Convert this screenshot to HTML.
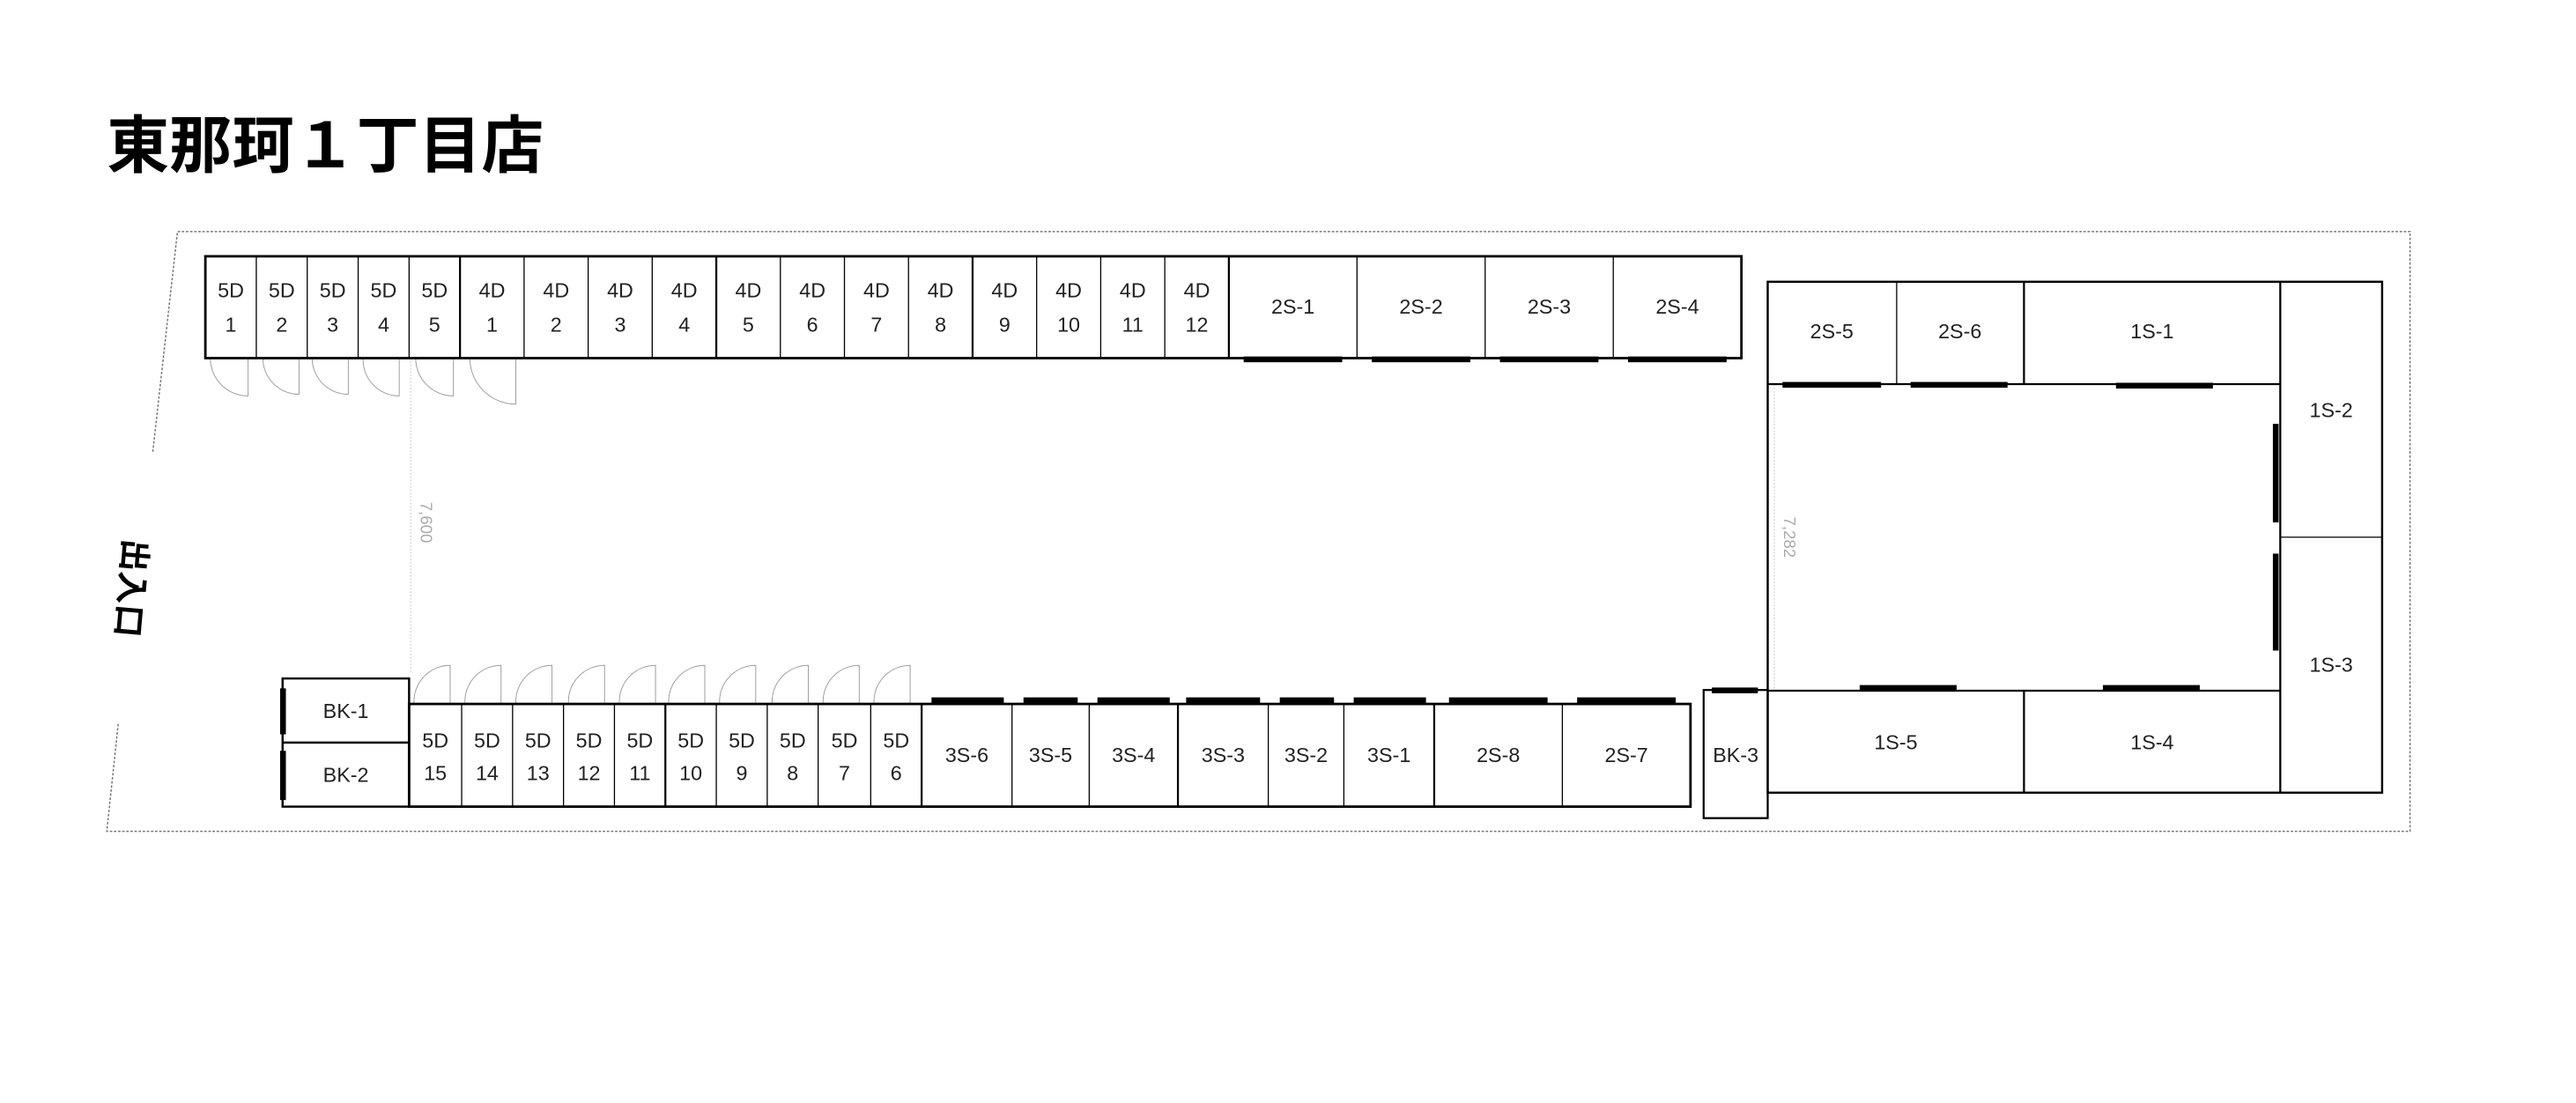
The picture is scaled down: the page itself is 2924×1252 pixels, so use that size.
<!DOCTYPE html>
<html><head><meta charset="utf-8"><style>
html,body{margin:0;padding:0;background:#fff;}
svg{display:block;}
text{font-family:"Liberation Sans","Noto Sans CJK JP",sans-serif;fill:#222;}
</style></head><body>
<svg width="2924" height="1252" viewBox="0 0 1568 671.4" xmlns="http://www.w3.org/2000/svg">
<text x="65" y="102" style="font-family:'Noto Sans CJK JP',sans-serif;font-weight:bold;font-size:38px;fill:#000">東那珂１丁目店</text>
<!-- site boundary -->
<g fill="none" stroke="#777" stroke-width="0.8" stroke-dasharray="1.5,1">
<polyline points="93,275 108,141 1467,141 1467,506 65,506 72,440"/>
</g>
<text transform="translate(80,358) rotate(95)" x="0" y="0" style="font-family:'Noto Sans CJK JP',sans-serif;font-weight:bold;font-size:20px;fill:#000" text-anchor="middle" dy="7">出入口</text>
<!-- guides -->
<g stroke="#ccc" stroke-width="0.6" stroke-dasharray="1,1">
<line x1="250" y1="218" x2="250" y2="410"/>
<line x1="1080" y1="234" x2="1080" y2="420"/>
</g>
<text transform="translate(256,318) rotate(90)" style="font-size:10px;fill:#aaa" text-anchor="middle">7,600</text>
<text transform="translate(1086,327) rotate(90)" style="font-size:10px;fill:#aaa" text-anchor="middle">7,282</text>
<!-- doors top -->
<g fill="none" stroke="#999" stroke-width="0.5">
<path d="M128,218 A23,23 0 0 0 151,241 V218"/>
<path d="M160,218 A22,22 0 0 0 182,240 V218"/>
<path d="M190,218 A22,22 0 0 0 212,240 V218"/>
<path d="M221,218 A22,22 0 0 0 243,241 V218"/>
<path d="M253,218 A23,23 0 0 0 276,241 V218"/>
<path d="M286,218 A28,28 0 0 0 314,246 V218"/>
</g>
<!-- doors bottom -->
<g fill="none" stroke="#999" stroke-width="0.5">
<path d="M252,428 A22,22 0 0 1 274,405 V428"/>
<path d="M283,428 A22,22 0 0 1 305,405 V428"/>
<path d="M314,428 A22,22 0 0 1 336,405 V428"/>
<path d="M346,428 A22,22 0 0 1 368,405 V428"/>
<path d="M377,428 A22,22 0 0 1 399,405 V428"/>
<path d="M407,428 A22,22 0 0 1 429,405 V428"/>
<path d="M438,428 A22,22 0 0 1 460,405 V428"/>
<path d="M470,428 A22,22 0 0 1 492,405 V428"/>
<path d="M501,428 A22,22 0 0 1 523,405 V428"/>
<path d="M532,428 A22,22 0 0 1 554,405 V428"/>
</g>
<!-- top row -->
<g fill="none" stroke="#000">
<rect x="125" y="156" width="935" height="62" stroke-width="1.5"/>
<g stroke-width="0.7">
<line x1="156" y1="156" x2="156" y2="218"/><line x1="187" y1="156" x2="187" y2="218"/><line x1="218" y1="156" x2="218" y2="218"/><line x1="249" y1="156" x2="249" y2="218"/>
<line x1="319" y1="156" x2="319" y2="218"/><line x1="358" y1="156" x2="358" y2="218"/><line x1="397" y1="156" x2="397" y2="218"/>
<line x1="475" y1="156" x2="475" y2="218"/><line x1="514" y1="156" x2="514" y2="218"/><line x1="553" y1="156" x2="553" y2="218"/>
<line x1="631" y1="156" x2="631" y2="218"/><line x1="670" y1="156" x2="670" y2="218"/><line x1="709" y1="156" x2="709" y2="218"/>
<line x1="826" y1="156" x2="826" y2="218"/><line x1="904" y1="156" x2="904" y2="218"/><line x1="982" y1="156" x2="982" y2="218"/>
</g>
<g stroke-width="1.2">
<line x1="280" y1="156" x2="280" y2="218"/><line x1="436" y1="156" x2="436" y2="218"/><line x1="592" y1="156" x2="592" y2="218"/><line x1="748" y1="156" x2="748" y2="218"/>
</g>
</g>
<g font-size="12.5" text-anchor="middle">
<text x="140.5" y="181">5D</text><text x="140.5" y="202">1</text>
<text x="171.5" y="181">5D</text><text x="171.5" y="202">2</text>
<text x="202.5" y="181">5D</text><text x="202.5" y="202">3</text>
<text x="233.5" y="181">5D</text><text x="233.5" y="202">4</text>
<text x="264.5" y="181">5D</text><text x="264.5" y="202">5</text>
<text x="299.5" y="181">4D</text><text x="299.5" y="202">1</text>
<text x="338.5" y="181">4D</text><text x="338.5" y="202">2</text>
<text x="377.5" y="181">4D</text><text x="377.5" y="202">3</text>
<text x="416.5" y="181">4D</text><text x="416.5" y="202">4</text>
<text x="455.5" y="181">4D</text><text x="455.5" y="202">5</text>
<text x="494.5" y="181">4D</text><text x="494.5" y="202">6</text>
<text x="533.5" y="181">4D</text><text x="533.5" y="202">7</text>
<text x="572.5" y="181">4D</text><text x="572.5" y="202">8</text>
<text x="611.5" y="181">4D</text><text x="611.5" y="202">9</text>
<text x="650.5" y="181">4D</text><text x="650.5" y="202">10</text>
<text x="689.5" y="181">4D</text><text x="689.5" y="202">11</text>
<text x="728.5" y="181">4D</text><text x="728.5" y="202">12</text>
<text x="787" y="191">2S-1</text><text x="865" y="191">2S-2</text><text x="943" y="191">2S-3</text><text x="1021" y="191">2S-4</text>
</g>
<g fill="#000">
<rect x="757" y="217" width="60" height="3.5"/><rect x="835" y="217" width="60" height="3.5"/><rect x="913" y="217" width="60" height="3.5"/><rect x="991" y="217" width="60" height="3.5"/>
</g>
<!-- bottom row -->
<g fill="none" stroke="#000">
<rect x="172" y="413" width="77" height="78" stroke-width="1.3"/>
<line x1="172" y1="452" x2="249" y2="452" stroke-width="1.3"/>
<rect x="249" y="428.5" width="780" height="62.5" stroke-width="1.5"/>
<g stroke-width="0.7">
<line x1="281" y1="428" x2="281" y2="491"/><line x1="312" y1="428" x2="312" y2="491"/><line x1="343" y1="428" x2="343" y2="491"/><line x1="374" y1="428" x2="374" y2="491"/>
<line x1="436" y1="428" x2="436" y2="491"/><line x1="467" y1="428" x2="467" y2="491"/><line x1="498" y1="428" x2="498" y2="491"/><line x1="530" y1="428" x2="530" y2="491"/>
<line x1="616" y1="428" x2="616" y2="491"/><line x1="663" y1="428" x2="663" y2="491"/><line x1="772" y1="428" x2="772" y2="491"/><line x1="818" y1="428" x2="818" y2="491"/><line x1="951" y1="428" x2="951" y2="491"/>
</g>
<g stroke-width="1.2">
<line x1="405" y1="428" x2="405" y2="491"/><line x1="561" y1="428" x2="561" y2="491"/><line x1="717" y1="428" x2="717" y2="491"/><line x1="873" y1="428" x2="873" y2="491"/>
</g>
<rect x="1037" y="420" width="39" height="78" stroke-width="1.2"/>
</g>
<g fill="#000">
<rect x="170.5" y="419" width="3.5" height="28"/><rect x="170.5" y="457" width="3.5" height="30"/>
<rect x="567" y="424.5" width="44" height="3.5"/><rect x="623" y="424.5" width="33" height="3.5"/><rect x="668" y="424.5" width="44" height="3.5"/><rect x="722" y="424.5" width="45" height="3.5"/>
<rect x="779" y="424.5" width="33" height="3.5"/><rect x="824" y="424.5" width="44" height="3.5"/><rect x="882" y="424.5" width="60" height="3.5"/><rect x="960" y="424.5" width="60" height="3.5"/>
<rect x="1042" y="418.5" width="28" height="3.5"/>
</g>
<g font-size="12.5" text-anchor="middle">
<text x="210.5" y="437">BK-1</text><text x="210.5" y="476">BK-2</text>
<text x="265" y="455">5D</text><text x="265" y="475">15</text>
<text x="296.5" y="455">5D</text><text x="296.5" y="475">14</text>
<text x="327.5" y="455">5D</text><text x="327.5" y="475">13</text>
<text x="358.5" y="455">5D</text><text x="358.5" y="475">12</text>
<text x="389.5" y="455">5D</text><text x="389.5" y="475">11</text>
<text x="420.5" y="455">5D</text><text x="420.5" y="475">10</text>
<text x="451.5" y="455">5D</text><text x="451.5" y="475">9</text>
<text x="482.5" y="455">5D</text><text x="482.5" y="475">8</text>
<text x="514" y="455">5D</text><text x="514" y="475">7</text>
<text x="545.5" y="455">5D</text><text x="545.5" y="475">6</text>
<text x="588.5" y="464">3S-6</text><text x="639.5" y="464">3S-5</text><text x="690" y="464">3S-4</text><text x="744.5" y="464">3S-3</text>
<text x="795" y="464">3S-2</text><text x="845.5" y="464">3S-1</text><text x="912" y="464">2S-8</text><text x="990" y="464">2S-7</text>
<text x="1056.5" y="464">BK-3</text>
</g>
<!-- right block -->
<g fill="none" stroke="#000">
<rect x="1076" y="171.5" width="374" height="311" stroke-width="1.3"/>
<line x1="1076" y1="233.8" x2="1388" y2="233.8" stroke-width="1.2"/>
<line x1="1076" y1="420.4" x2="1388" y2="420.4" stroke-width="1.2"/>
<line x1="1388" y1="171.5" x2="1388" y2="482.5" stroke-width="1.2"/>
<line x1="1232" y1="171.5" x2="1232" y2="233.8" stroke-width="1.2"/>
<line x1="1232" y1="420.4" x2="1232" y2="482.5" stroke-width="1.2"/>
<line x1="1154.5" y1="171.5" x2="1154.5" y2="233.8" stroke-width="0.7"/>
<line x1="1388" y1="327" x2="1450" y2="327" stroke-width="0.7"/>
</g>
<g fill="#000">
<rect x="1085" y="232.5" width="60" height="3.5"/><rect x="1163" y="232.5" width="59" height="3.5"/><rect x="1288" y="233" width="59" height="3.5"/>
<rect x="1383.5" y="258" width="3.5" height="60"/><rect x="1383.5" y="337" width="3.5" height="59"/>
<rect x="1132" y="417" width="59" height="3.5"/><rect x="1280" y="417" width="59" height="3.5"/>
</g>
<g font-size="12.5" text-anchor="middle">
<text x="1115" y="206">2S-5</text><text x="1193" y="206">2S-6</text><text x="1310" y="206">1S-1</text>
<text x="1419" y="254">1S-2</text><text x="1419" y="409">1S-3</text>
<text x="1154" y="456">1S-5</text><text x="1310" y="456">1S-4</text>
</g>
</svg>
</body></html>
